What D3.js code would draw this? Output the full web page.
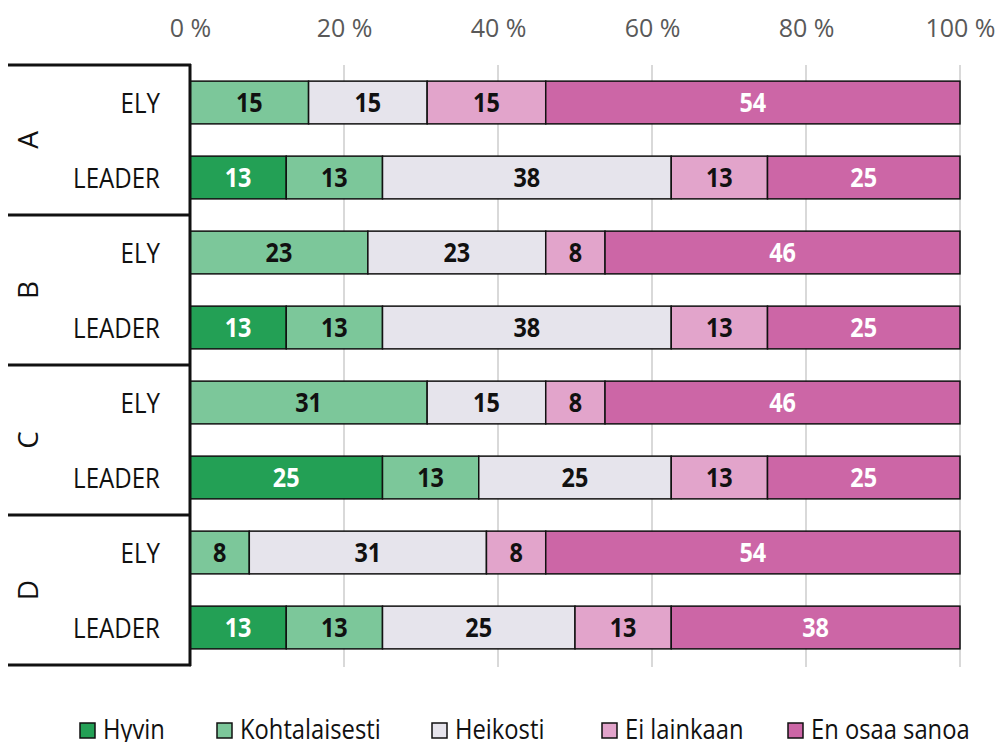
<!DOCTYPE html>
<html><head><meta charset="utf-8">
<script src="https://cdn.jsdelivr.net/npm/d3@7"></script>
<style>
body{margin:0;background:#fff}
svg text{font-family:'Open Sans',sans-serif;}
</style>
</head><body>
<svg id="c" width="998" height="742"></svg>
<script>
const groups = ["A","B","C","D"];
const subs = ["ELY","LEADER"];
const series = ["Hyvin","Kohtalaisesti","Heikosti","Ei lainkaan","En osaa sanoa"];
const colors = ["#23a055","#7cc79a","#e6e4ec","#e2a4cb","#cc66a6"];
const textColors = ["#fff","#111","#111","#111","#fff"];
// rows in order A-ELY, A-LEADER, B-ELY, ...
const hyvin         = [0,    12.5, 0,    12.5, 0,    25,   0,    12.5];
const kohtalaisesti = [15.4, 12.5, 23.1, 12.5, 30.8, 12.5, 7.7,  12.5];
const heikosti      = [15.4, 37.5, 23.1, 37.5, 15.4, 25,   30.8, 25];
const eiLainkaan    = [15.4, 12.5, 7.7,  12.5, 7.7,  12.5, 7.7,  12.5];
const enOsaa        = [53.8, 25,   46.1, 25,   46.1, 25,   53.8, 37.5];
const ticks = [0,20,40,60,80,100];

const seriesVals = [hyvin,kohtalaisesti,heikosti,eiLainkaan,enOsaa];
const rows = [];
groups.forEach(g=>subs.forEach(s=>rows.push(g+"|"+s)));
const data = rows.map((r,i)=>{const o={key:r}; series.forEach((s,j)=>o[s]=seriesVals[j][i]); return o;});

const svg = d3.select("#c");
const x = d3.scaleLinear().domain([0,100]).range([190,960]);
const y = d3.scaleBand().domain(rows).range([65,665]).paddingInner(0.43).paddingOuter(0.215);

// gridlines
svg.append("g").selectAll("line").data(ticks).join("line")
  .attr("x1",d=>x(d)).attr("x2",d=>x(d)).attr("y1",65).attr("y2",667)
  .attr("stroke","#d9d9d9").attr("stroke-width",2);

// tick labels
const ax = svg.append("g").attr("transform","translate(0,37)")
  .call(d3.axisTop(x).tickValues(ticks).tickFormat(d=>d+" %").tickSize(0).tickPadding(0));
ax.select(".domain").remove();
ax.selectAll("text").attr("font-size",25).attr("fill","#595959");

// narrow text helper (horizontal scale)
function narrowText(sel, sx, xf){
  sel.attr("transform",`scale(${sx},1)`).attr("x",(d,i)=>xf(d,i)/sx);
}

const stack = d3.stack().keys(series)(data);
stack.forEach((layer,j)=>{
  const g = svg.append("g");
  const segs = layer.filter(d=>d[1]-d[0]>0);
  g.selectAll("rect").data(segs).join("rect")
    .attr("x",d=>x(d[0])).attr("width",d=>x(d[1])-x(d[0]))
    .attr("y",d=>y(d.data.key)).attr("height",y.bandwidth())
    .attr("fill",colors[j]).attr("stroke","#111").attr("stroke-width",1.5);
  g.selectAll("text").data(segs).join("text")
    .attr("y",d=>y(d.data.key)+y.bandwidth()/2)
    .attr("dy","0.36em").attr("text-anchor","middle")
    .attr("font-weight","bold").attr("font-size",26)
    .attr("fill",textColors[j]).text(d=>Math.round(d[1]-d[0]))
    .call(narrowText,0.9,d=>(x(d[0])+x(d[1]))/2);
});

// category axis
const axG = svg.append("g");
axG.append("line").attr("x1",190).attr("x2",190).attr("y1",64).attr("y2",666).attr("stroke","#111").attr("stroke-width",3);
const bounds = [65,215,365,515,665];
axG.selectAll("line.h").data(bounds).join("line").attr("class","h")
  .attr("x1",8).attr("x2",191).attr("y1",d=>d).attr("y2",d=>d).attr("stroke","#111").attr("stroke-width",3);
axG.selectAll("text.sub").data(rows).join("text").attr("class","sub")
  .attr("y",d=>y(d)+y.bandwidth()/2).attr("dy","0.36em").attr("text-anchor","end")
  .attr("font-size",28).attr("fill","#111").text(d=>d.split("|")[1])
  .call(narrowText,0.86,()=>160);
const gy = d3.scaleBand().domain(groups).range([65,665]);
axG.selectAll("text.grp").data(groups).join("text").attr("class","grp")
  .attr("transform",d=>`translate(28,${gy(d)+gy.bandwidth()/2}) rotate(-90)`)
  .attr("dy","0.36em").attr("text-anchor","middle")
  .attr("font-size",28).attr("fill","#111").text(d=>d);

// legend
const legX = [80,217,432,602,788];
const leg = svg.append("g").selectAll("g").data(series).join("g")
  .attr("transform",(d,i)=>`translate(${legX[i]},723)`);
leg.append("rect").attr("width",15).attr("height",15).attr("fill",(d,i)=>colors[i]).attr("stroke","#111").attr("stroke-width",1.5);
leg.append("text").attr("y",16).attr("font-size",27).attr("fill","#111").text(d=>d)
  .call(narrowText,0.88,()=>23);
</script>
</body></html>
